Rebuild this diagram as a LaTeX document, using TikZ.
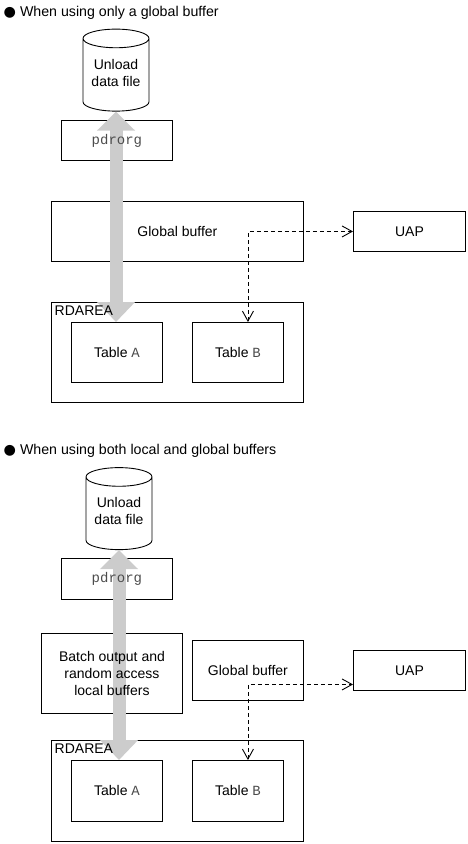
\documentclass[tikz,border=0pt]{standalone}
\usepackage{fontspec}
\setmainfont{Liberation Sans}
\newfontfamily\codefont{Liberation Mono}
\newfontfamily\markfont{DejaVu Sans}
\usetikzlibrary{arrows.meta,shapes.geometric}
\tikzset{
  box/.style={draw, line width=0.9pt, inner sep=0pt, anchor=north west},
  filebox/.style={draw, line width=0.9pt, shape=cylinder, shape border rotate=90, aspect=0.38,
    minimum width=66pt, minimum height=82pt, inner sep=0pt, align=center,
    font=\fontsize{14}{17}\selectfont},
  boxtext/.style={align=center, inner sep=0pt, font=\fontsize{14}{17}\selectfont},
  heading/.style={anchor=west, inner sep=0pt, font=\fontsize{14.2}{17}\selectfont},
  bulkflow/.style={line width=13pt, draw=black!20,
    {Triangle[width=37pt,length=19pt]}-{Triangle[width=37pt,length=20pt]}},
  access/.style={<->, dashed, dash pattern=on 4pt off 3pt, line width=0.9pt}
}
\newcommand{\code}[1]{{\codefont\color{black!70}#1}}
\newcommand{\filespace}{\phantom{Unload}\\\phantom{data file}}
\begin{document}
\begin{tikzpicture}[x=1pt, y=-1pt, >={Straight Barb[length=10pt,width=11pt]}]
  \useasboundingbox (0,0) rectangle (468,844);

  % ---------- only a global buffer ----------
  % 1. boxes
  \node[filebox] (file1) at (116,75) {\filespace};
  \node[box, minimum width=111pt, minimum height=40pt] (org1) at (61,120) {};
  \node[box, minimum width=252pt, minimum height=60pt] (global1) at (51,201) {};
  \node[box, minimum width=112pt, minimum height=40pt] (uap1) at (353,211) {};
  \node[box, minimum width=252pt, minimum height=100pt] (area1) at (51,302) {};
  \node[box, minimum width=91pt, minimum height=60pt] (tablea1) at (71,322) {};
  \node[box, minimum width=91pt, minimum height=60pt] (tableb1) at (192,322) {};

  % 2. arrows
  \draw[bulkflow] (file1.south) -- (file1.south |- tablea1.north);
  \draw[access] ([xshift=10pt]tableb1.north) |- (uap1.west);

  % 3. texts
  \node[heading] (head1) at (3.5,12.5) {{\markfont ●} When using only a global buffer};
  \node[boxtext] (filetext1) at (116,72.5) {Unload\\data file};
  \node[boxtext] (orgtext1) at (org1) {\code{pdrorg}};
  \node[boxtext] (globaltext1) at (global1) {Global buffer};
  \node[boxtext] (uaptext1) at (uap1) {UAP};
  \node[boxtext, anchor=north west] (areatext1) at (54.5,306) {RDAREA};
  \node[boxtext] (tableatext1) at (tablea1) {Table \code{A}};
  \node[boxtext] (tablebtext1) at (tableb1) {Table \code{B}};

  % ---------- local and global buffers ----------
  % 1. boxes
  \node[filebox] (file2) at (119,513.5) {\filespace};
  \node[box, minimum width=111pt, minimum height=41pt] (org2) at (61,558) {};
  \node[box, minimum width=141pt, minimum height=80pt] (batch2) at (41,633) {};
  \node[box, minimum width=111pt, minimum height=60pt] (global2) at (192,640) {};
  \node[box, minimum width=112pt, minimum height=40pt] (uap2) at (353,650) {};
  \node[box, minimum width=252pt, minimum height=101pt] (area2) at (51,740) {};
  \node[box, minimum width=91pt, minimum height=61pt] (tablea2) at (71,760) {};
  \node[box, minimum width=91pt, minimum height=61pt] (tableb2) at (192,760) {};

  % 2. arrows
  \draw[bulkflow] (file2.south) -- (file2.south |- tablea2.north);
  \draw[access] ([xshift=10pt]tableb2.north) |- ([yshift=-14pt]uap2.west);

  % 3. texts
  \node[heading] (head2) at (3.5,451) {{\markfont ●} When using both local and global buffers};
  \node[boxtext] (filetext2) at (119,510.5) {Unload\\data file};
  \node[boxtext] (orgtext2) at (org2) {\code{pdrorg}};
  \node[boxtext] (batchtext2) at (batch2) {Batch output and\\random access\\local buffers};
  \node[boxtext] (globaltext2) at (global2) {Global buffer};
  \node[boxtext] (uaptext2) at (uap2) {UAP};
  \node[boxtext, anchor=north west] (areatext2) at (54.5,744) {RDAREA};
  \node[boxtext] (tableatext2) at (tablea2) {Table \code{A}};
  \node[boxtext] (tablebtext2) at (tableb2) {Table \code{B}};
\end{tikzpicture}
\end{document}
